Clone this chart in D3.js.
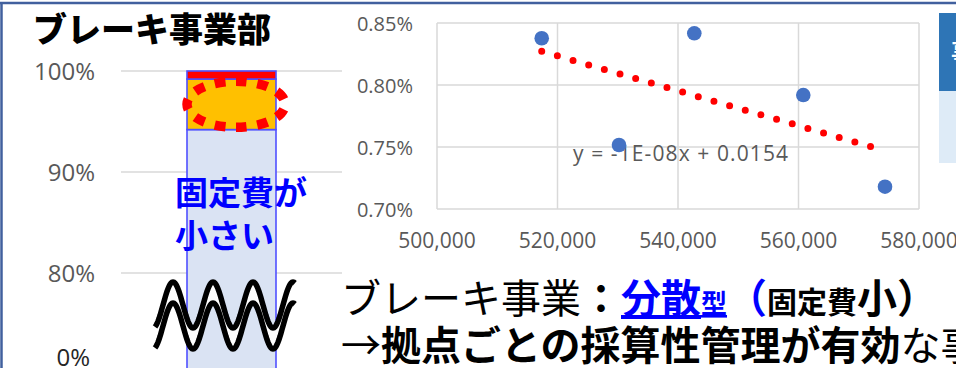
<!DOCTYPE html>
<html><head><meta charset="utf-8">
<script src="https://cdn.jsdelivr.net/npm/d3@7"></script>
<style>
html,body{margin:0;padding:0;background:#fff;}
svg{display:block;}
</style></head><body>
<svg id="c" width="956" height="368"></svg>
<script>
// Brake division: cost structure as a share of sales
const costCategories = ["変動費", "固定費", "利益"];
const costShares = [0.942, 0.050, 0.008];
const costColors = ["#DAE3F3", "#FFC000", "#FF0000"];
const shareTicks = [0.8, 0.9, 1.0];
const shareTickLabels = ["80%", "90%", "100%"];
const divisionName = "ブレーキ事業部";

// Sites: sales vs. profit rate
const siteSales = [517380, 530207, 542705, 560797, 574357];
const siteProfitRate = [0.008377, 0.007516, 0.008417, 0.007919, 0.00718];
const salesTicks = [500000, 520000, 540000, 560000, 580000];
const rateTicks = [0.007, 0.0075, 0.008, 0.0085];
const trendLabel = "y = -1E-08x + 0.0154";

const svg = d3.select("#c");
const NUM_FONT = "'Open Sans', 'Noto Sans', sans-serif";
const JP_FONT = "'Noto Sans CJK JP', 'Noto Sans', sans-serif";
const GRID = "#d9d9d9";

// ---------- left: stacked cost bar with broken axis ----------
const yL = d3.scaleLinear().domain([0, 0.8, 1]).range([392, 273, 71]);
const xL = d3.scaleBand().domain([divisionName]).range([121, 342])
  .paddingInner(0).paddingOuter(0.7416);

const left = svg.append("g");
left.selectAll("line.grid").data(shareTicks).join("line")
  .attr("x1", 121).attr("x2", 342)
  .attr("y1", d => yL(d)).attr("y2", d => yL(d))
  .attr("stroke", GRID).attr("stroke-width", 1.5);
left.selectAll("text.tick").data(shareTicks).join("text")
  .attr("x", 95).attr("y", d => yL(d) + 9)
  .attr("text-anchor", "end")
  .attr("font-family", NUM_FONT).attr("font-size", 24).attr("fill", "#595959")
  .text((d, i) => shareTickLabels[i]);
// zero label sits below the axis break
left.append("text").attr("x", 90).attr("y", 366).attr("text-anchor", "end")
  .attr("font-family", NUM_FONT).attr("font-size", 24).attr("fill", "#262626")
  .text("0%");

let acc = 0;
const stacked = costShares.map((v, i) => {
  const s = { name: costCategories[i], y0: acc, y1: acc + v, color: costColors[i] };
  acc += v;
  return s;
});
left.selectAll("rect.seg").data(stacked).join("rect")
  .attr("x", xL(divisionName)).attr("width", xL.bandwidth())
  .attr("y", d => yL(d.y1)).attr("height", d => yL(d.y0) - yL(d.y1))
  .attr("fill", d => d.color).attr("stroke", "#5050FF").attr("stroke-width", 1.6);

// highlight around the fixed-cost segment
const fixedSeg = stacked[1];
const ecx = xL(divisionName) + xL.bandwidth() / 2 + 4.5;
const ecy = (yL(fixedSeg.y0) + yL(fixedSeg.y1)) / 2;
left.append("ellipse")
  .attr("cx", ecx).attr("cy", ecy).attr("rx", 49).attr("ry", 23)
  .attr("fill", "none").attr("stroke", "#FF0000").attr("stroke-width", 9.5)
  .attr("pathLength", 220).attr("stroke-dasharray", "10 10").attr("stroke-dashoffset", 15);

left.append("text").attr("font-family", JP_FONT).attr("font-weight", 700)
  .attr("font-size", 33).attr("fill", "#0000FF")
  .selectAll("tspan").data(["固定費が", "小さい"]).join("tspan")
  .attr("x", 175).attr("y", (d, i) => 205 + i * 43).text(d => d);

// axis-break symbol
const wave = (c) => d3.range(155, 295.5, 1).map(x => [x, c - 23 * Math.cos(2 * Math.PI * (x - 173) / 40)]);
const upper = wave(305), lower = wave(326);
left.append("path")
  .attr("d", d3.line()(upper.concat(lower.slice().reverse())) + "Z")
  .attr("fill", "#fff");
[upper, lower].forEach(w => left.append("path").attr("d", d3.line()(w))
  .attr("fill", "none").attr("stroke", "#000").attr("stroke-width", 5.5));

// title
svg.append("text").attr("x", 33).attr("y", 42)
  .attr("font-family", JP_FONT).attr("font-weight", 900).attr("font-size", 34)
  .attr("fill", "#000").text(divisionName);

// ---------- right: scatter with linear trend ----------
const xS = d3.scaleLinear().domain([500000, 580000]).range([437, 919]);
const yS = d3.scaleLinear().domain([0.007, 0.0085]).range([209, 23]);
const right = svg.append("g");

right.selectAll("line.hg").data(rateTicks).join("line")
  .attr("x1", 437).attr("x2", 919).attr("y1", d => yS(d)).attr("y2", d => yS(d))
  .attr("stroke", GRID).attr("stroke-width", 1.5);
right.selectAll("line.vg").data(salesTicks).join("line")
  .attr("y1", 23).attr("y2", 209).attr("x1", d => xS(d)).attr("x2", d => xS(d))
  .attr("stroke", GRID).attr("stroke-width", 1.5);

right.selectAll("text.yt").data(rateTicks).join("text")
  .attr("x", 413).attr("y", d => yS(d) + 8).attr("text-anchor", "end")
  .attr("font-family", NUM_FONT).attr("font-size", 20).attr("fill", "#595959")
  .text(d => d3.format(".2%")(d));
right.selectAll("text.xt").data(salesTicks).join("text")
  .attr("x", d => xS(d)).attr("y", 248).attr("text-anchor", "middle")
  .attr("font-family", NUM_FONT).attr("font-size", 21).attr("fill", "#595959")
  .text(d => d3.format(",")(d));

// least-squares trend over the sites
const mx = d3.mean(siteSales), my = d3.mean(siteProfitRate);
const sxy = d3.sum(siteSales, (x, i) => (x - mx) * (siteProfitRate[i] - my));
const sxx = d3.sum(siteSales, x => (x - mx) ** 2);
const slope = sxy / sxx, intercept = my - slope * mx;
const [xmin, xmax] = d3.extent(siteSales);
right.append("path")
  .attr("d", d3.line().x(d => xS(d)).y(d => yS(slope * d + intercept))([xmin, xmax]))
  .attr("stroke", "#FF0000").attr("stroke-width", 7).attr("stroke-linecap", "round")
  .attr("stroke-dasharray", "0 16.3").attr("fill", "none");

right.append("text").attr("x", 573).attr("y", 161)
  .attr("font-family", NUM_FONT).attr("font-size", 21).attr("letter-spacing", 1.1)
  .attr("fill", "#595959").text(trendLabel);

right.selectAll("circle").data(siteSales).join("circle")
  .attr("cx", d => xS(d)).attr("cy", (d, i) => yS(siteProfitRate[i]))
  .attr("r", 7.3).attr("fill", "#4472C4");

// table edge on the right
svg.append("rect").attr("x", 939).attr("y", 13).attr("width", 30).attr("height", 78).attr("fill", "#2E75B6");
svg.append("rect").attr("x", 939).attr("y", 91).attr("width", 30).attr("height", 72).attr("fill", "#DEEBF7");
svg.append("text").attr("x", 951).attr("y", 61).attr("font-family", JP_FONT).attr("font-weight", 700)
  .attr("font-size", 24).attr("fill", "#fff").text("事");

// ---------- bottom statement ----------
const line1 = [
  { t: "ブレーキ事業", w: 400, c: "#000", s: 40 },
  { t: "：", w: 700, c: "#000", s: 40 },
  { t: "分散", w: 700, c: "#0000FF", s: 40, u: true },
  { t: "型", w: 700, c: "#0000FF", s: 26, u: true },
  { t: "（", w: 700, c: "#0000FF", s: 40 },
  { t: "固定費", w: 700, c: "#000", s: 30 },
  { t: "小", w: 700, c: "#000", s: 40 },
  { t: "）", w: 700, c: "#000", s: 40 }
];
const line2 = [
  { t: "→", w: 400, c: "#000", s: 40 },
  { t: "拠点ごとの採算性管理が有効", w: 700, c: "#000", s: 40 },
  { t: "な事業", w: 400, c: "#000", s: 40 }
];
[[line1, 313], [line2, 360]].forEach(([parts, y]) => {
  svg.append("text").attr("x", 341).attr("y", y).attr("font-family", JP_FONT)
    .selectAll("tspan").data(parts).join("tspan")
    .attr("font-weight", d => d.w).attr("fill", d => d.c).attr("font-size", d => d.s)
    .style("text-decoration", d => d.u ? "underline" : null)
    .text(d => d.t);
});

// slide frame
svg.append("line").attr("x1", 0).attr("x2", 956).attr("y1", 3).attr("y2", 3)
  .attr("stroke", "#41609E").attr("stroke-width", 2.5);
svg.append("line").attr("x1", 1.5).attr("x2", 1.5).attr("y1", 2).attr("y2", 368)
  .attr("stroke", "#41609E").attr("stroke-width", 2.5);
</script>
</body></html>
